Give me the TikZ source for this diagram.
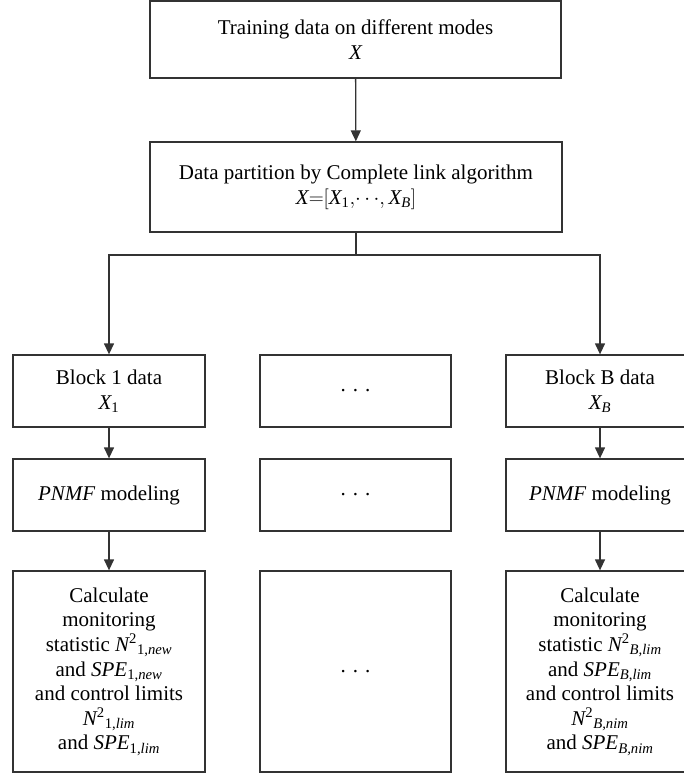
\documentclass[tikz,border=0pt]{standalone}
\usepackage{amsmath}
\usepackage{fontspec}
\setmainfont{Liberation Serif}
\usetikzlibrary{arrows.meta}
\newcommand{\vi}[1]{\textit{#1}}
\newcommand{\vr}[1]{\textrm{#1}}
\newcommand{\sdots}{.\hspace{7pt}.\hspace{7pt}.}
\begin{document}
\begin{tikzpicture}[x=1pt,y=-1pt,
  box/.style={draw=black!80,line width=1.3pt,inner sep=0pt,align=center,
    font=\fontsize{21}{24.6}\selectfont},
  conn/.style={draw=black!80,line width=1.3pt},
  arr/.style={conn,-{Triangle[length=11pt,width=10pt]}}]
\useasboundingbox (0,0) rectangle (684,784);
\node[box,minimum width=411pt,minimum height=77pt] (top) at (355.5,39.5)
  {Training data on different modes\\ $\vi{X}$};
\node[box,minimum width=412pt,minimum height=90pt] (part) at (356,187)
  {Data partition by Complete link algorithm\\ $\vi{X}{=}[\vi{X}_{\vr{1}},\!\cdots\!,\vi{X}_{\vi{B}}]$};
\node[box,minimum width=192pt,minimum height=72pt] (b1) at (109,391)
  {Block 1 data\\ $\vi{X}_{\vr{1}}$};
\node[box,minimum width=191pt,minimum height=72pt] (bm) at (355.5,391) {\sdots};
\node[box,minimum width=188pt,minimum height=72pt] (bB) at (600,391)
  {Block B data\\ $\vi{X}_{\vi{B}}$};
\node[box,minimum width=192pt,minimum height=72pt] (p1) at (109,495)
  {\vi{PNMF} modeling};
\node[box,minimum width=191pt,minimum height=72pt] (pm) at (355.5,495) {\sdots};
\node[box,minimum width=188pt,minimum height=72pt] (pB) at (600,495)
  {\vi{PNMF} modeling};
\node[box,minimum width=192pt,minimum height=201pt] (c1) at (109,671.5)
  {Calculate\\ monitoring\\ statistic $\vi{N}^{\vr{2}}{}_{\vr{1,}\vi{new}}$\\
   and $\vi{SPE}_{\vr{1,}\vi{new}}$\\ and control limits\\
   $\vi{N}^{\vr{2}}{}_{\vr{1,}\vi{lim}}$\\ and $\vi{SPE}_{\vr{1,}\vi{lim}}$};
\node[box,minimum width=191pt,minimum height=201pt] (cm) at (355.5,671.5) {\sdots};
\node[box,minimum width=188pt,minimum height=201pt] (cB) at (600,671.5)
  {Calculate\\ monitoring\\ statistic $\vi{N}^{\vr{2}}{}_{\vi{B,lim}}$\\
   and $\vi{SPE}_{\vi{B,lim}}$\\ and control limits\\
   $\vi{N}^{\vr{2}}{}_{\vi{B,nim}}$\\ and $\vi{SPE}_{\vi{B,nim}}$};
\coordinate (br) at (356,255);
\draw[arr] (top) -- (part);
\draw[conn] (part.south) -- (br);
\draw[arr] (br) -| (b1.north);
\draw[arr] (br) -| (bB.north);
\draw[arr] (b1) -- (p1);
\draw[arr] (p1) -- (c1);
\draw[arr] (bB) -- (pB);
\draw[arr] (pB) -- (cB);
\end{tikzpicture}
\end{document}
